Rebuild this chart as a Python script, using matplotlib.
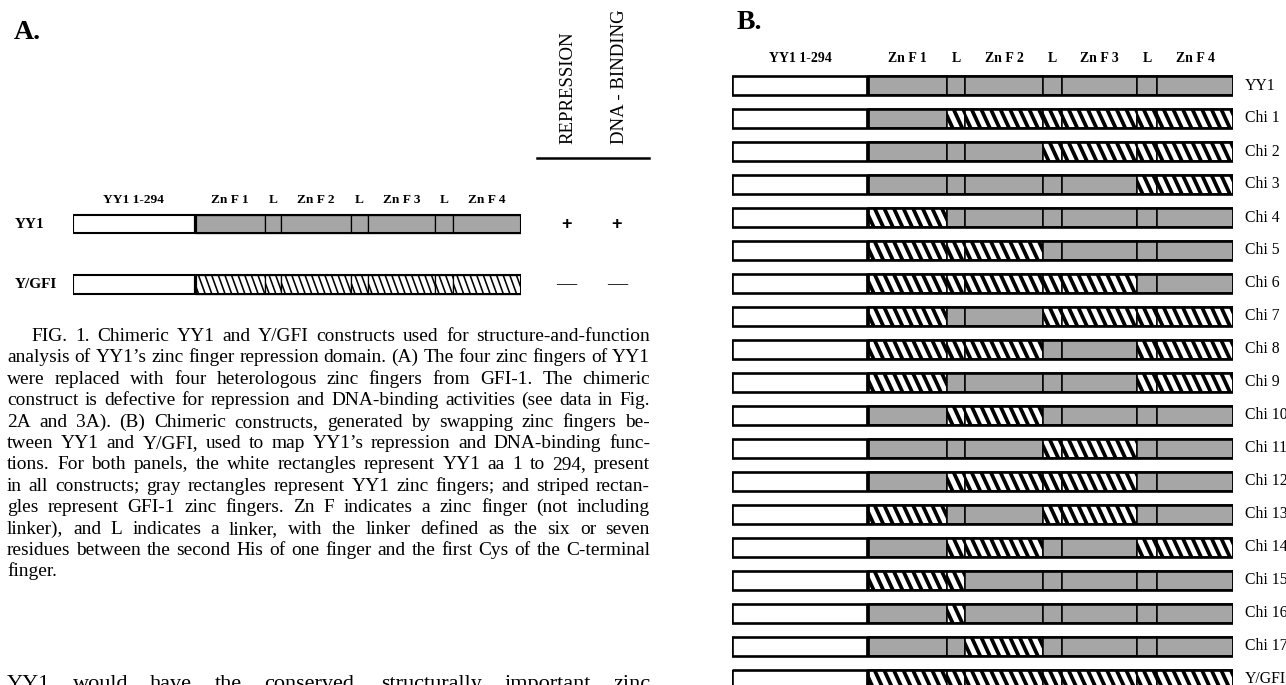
import numpy as np
import matplotlib
matplotlib.use('Agg')
from matplotlib import pyplot as plt
import matplotlib.transforms as mtransforms
from matplotlib.patches import Rectangle
from matplotlib.collections import LineCollection

# domains of every construct, left to right (drawn widths)
seg_names = ['YY1 1-294', 'Zn F 1', 'L', 'Zn F 2', 'L', 'Zn F 3', 'L', 'Zn F 4']
seg_width = [136, 79, 18, 78, 19, 75, 20, 76]

# y = YY1 zinc finger / linker (gray), g = GFI-1 (striped); order F1 L F2 L F3 L F4
a_names = ['YY1', 'Y/GFI']
a_parts = ['yyyyyyy', 'ggggggg']
a_repression = ['+', '\u2014']
a_binding = ['+', '\u2014']

b_names = ['YY1', 'Chi 1', 'Chi 2', 'Chi 3', 'Chi 4', 'Chi 5', 'Chi 6', 'Chi 7',
           'Chi 8', 'Chi 9', 'Chi 10', 'Chi 11', 'Chi 12', 'Chi 13', 'Chi 14',
           'Chi 15', 'Chi 16', 'Chi 17', 'Y/GFI']
b_parts = ['yyyyyyy', 'ygggggg', 'yyygggg', 'yyyyygg', 'gyyyyyy', 'gggyyyy',
           'gggggyy', 'gyygggg', 'gggyygg', 'gyyyygg', 'yggyyyy', 'yyyggyy',
           'yggggyy', 'gyyggyy', 'yggyygg', 'ggyyyyy', 'ygyyyyy', 'yygyyyy',
           'ggggggg']

caption = [
    'FIG.  1.  Chimeric YY1 and Y/GFI constructs used for structure-and-function',
    'analysis of YY1\u2019s zinc finger repression domain. (A) The four zinc fingers of YY1',
    'were replaced with four heterologous zinc fingers from GFI-1. The chimeric',
    'construct is defective for repression and DNA-binding activities (see data in Fig.',
    '2A and 3A). (B) Chimeric constructs, generated by swapping zinc fingers be-',
    'tween YY1 and Y/GFI, used to map YY1\u2019s repression and DNA-binding func-',
    'tions. For both panels, the white rectangles represent YY1 aa 1 to 294, present',
    'in all constructs; gray rectangles represent YY1 zinc fingers; and striped rectan-',
    'gles represent GFI-1 zinc fingers. Zn F indicates a zinc finger (not including',
    'linker), and L indicates a linker, with the linker defined as the six or seven',
    'residues between the second His of one finger and the first Cys of the C-terminal',
    'finger.',
]
body = ['YY1 would have the conserved, structurally important zinc']

SERIF = 'Liberation Serif'
GRAY = '#a6a6a6'
W, H = 1286, 685

fig = plt.figure(figsize=(W / 100, H / 100), dpi=100)
fig.patch.set_facecolor('white')


def panel_axes(left, right, top, pitch, nrows):
    bottom = top + pitch * nrows
    ax = fig.add_axes([left / W, 1 - bottom / H, (right - left) / W, (bottom - top) / H])
    ax.set_xlim(0, sum(seg_width))
    ax.set_ylim(nrows - 0.5, -0.5)
    ax.axis('off')
    return ax


def draw_row(ax, row, parts, h, step, slant, lw_in, lw_out, lw_stripe):
    edges = np.concatenate([[0], np.cumsum(seg_width)])
    top, bot = row - h / 2, row + h / 2
    ax.add_patch(Rectangle((0, top), seg_width[0], h, facecolor='white', edgecolor='none'))
    for k, kind in enumerate(parts):
        x0, x1 = edges[k + 1], edges[k + 2]
        cell = Rectangle((x0, top), x1 - x0, h, facecolor=GRAY if kind == 'y' else 'white',
                         edgecolor='black', lw=lw_in)
        ax.add_patch(cell)
        if kind == 'g':
            xs = np.arange(x0 - slant + step * 0.6, x1, step)
            lc = LineCollection([[(x, top), (x + slant, bot)] for x in xs],
                                colors='black', linewidths=lw_stripe)
            ax.add_collection(lc)
            lc.set_clip_path(cell)
    ax.add_patch(Rectangle((0, top), edges[-1], h, fill=False, edgecolor='black', lw=lw_out))
    ax.plot([edges[1], edges[1]], [top, bot], color='black', lw=lw_out + 0.8,
            solid_capstyle='butt')


def headers(ax, ypx, size):
    edges = np.concatenate([[0], np.cumsum(seg_width)])
    tr = mtransforms.blended_transform_factory(ax.transData, fig.transFigure)
    for k, name in enumerate(seg_names):
        ax.text((edges[k] + edges[k + 1]) / 2, 1 - ypx / H, name, transform=tr,
                ha='center', va='center', family=SERIF, fontweight='bold', fontsize=size)


def fit_size(lines, width, indent):
    r = fig.canvas.get_renderer()
    t = fig.text(0, 0, '', fontsize=10, family=SERIF)
    widest = 0
    for i, line in enumerate(lines[:-1]):
        t.set_text(line)
        widest = max(widest, t.get_window_extent(r).width / (width - (indent if i == 0 else 0)))
    t.remove()
    return 10 / widest


def justify(lines, left, right, base, step, size, indent, last_free=True):
    r = fig.canvas.get_renderer()
    for i, line in enumerate(lines):
        y = 1 - (base + i * step) / H
        words = [w for w in line.split(' ') if w]
        ts = [fig.text(0, y, w, fontsize=size, family=SERIF, va='baseline') for w in words]
        ws = [t.get_window_extent(r).width for t in ts]
        x0 = left + (indent if i == 0 else 0)
        if (last_free and i == len(lines) - 1) or len(words) == 1:
            gap = size * 100 / 72 * 0.25
        else:
            gap = (right - x0 - sum(ws)) / (len(words) - 1)
        x = x0
        for t, w in zip(ts, ws):
            t.set_x(x / W)
            x += w + gap


def mark(ax, tr, x, row, sign):
    if sign == '+':
        ax.text(x, row, sign, transform=tr, ha='center', va='center',
                family='Liberation Sans', fontweight='bold', fontsize=13)
    else:
        ax.text(x, row, sign, transform=tr, ha='center', va='center',
                family=SERIF, fontsize=14.5)


# ---- panel A ----
fig.text(14 / W, 1 - 39 / H, 'A.', family=SERIF, fontweight='bold', fontsize=20, va='baseline')
axA = panel_axes(73, 521, 224 - 30.25, 60.5, len(a_names))
headers(axA, 200, 9.6)
trA = mtransforms.blended_transform_factory(fig.transFigure, axA.transData)
for i, name in enumerate(a_names):
    draw_row(axA, i, a_parts[i], 0.31, 7.4, 7.6, 0.9, 1.5, 1.15)
    axA.text(15 / W, i, name, transform=trA, ha='left', va='center', family=SERIF,
             fontweight='bold', fontsize=11)
    mark(axA, trA, 566 / W, i, a_repression[i])
    mark(axA, trA, 617 / W, i, a_binding[i])
fig.text(568 / W, 1 - 144 / H, 'REPRESSION', rotation=90, ha='center', va='bottom',
         family=SERIF, fontsize=13.5)
fig.text(619 / W, 1 - 144 / H, 'DNA - BINDING', rotation=90, ha='center', va='bottom',
         family=SERIF, fontsize=13.5)
fig.add_artist(plt.Line2D([537 / W, 649 / W], [1 - 158 / H, 1 - 158 / H], color='black', lw=1.8))

# ---- caption and body text ----
cap_size = fit_size(caption, 643, 25)
justify(caption, 7, 650, 341, 21.4, cap_size, 25)
justify(body, 7, 650, 689, 0, 16, 0, last_free=False)

# ---- panel B ----
fig.text(737 / W, 1 - 29 / H, 'B.', family=SERIF, fontweight='bold', fontsize=20, va='baseline')
axB = panel_axes(732, 1233, 85.5 - 16.5, 33, len(b_names))
headers(axB, 59, 10)
for i, name in enumerate(b_names):
    draw_row(axB, i, b_parts[i], 0.59, 9.6, 9.0, 1.1, 1.9, 2.7)
    axB.text(sum(seg_width) + 12, i, name, ha='left', va='center', family=SERIF,
             fontsize=11.3, clip_on=False)

fig.savefig('out.png', dpi=100, facecolor='white')
